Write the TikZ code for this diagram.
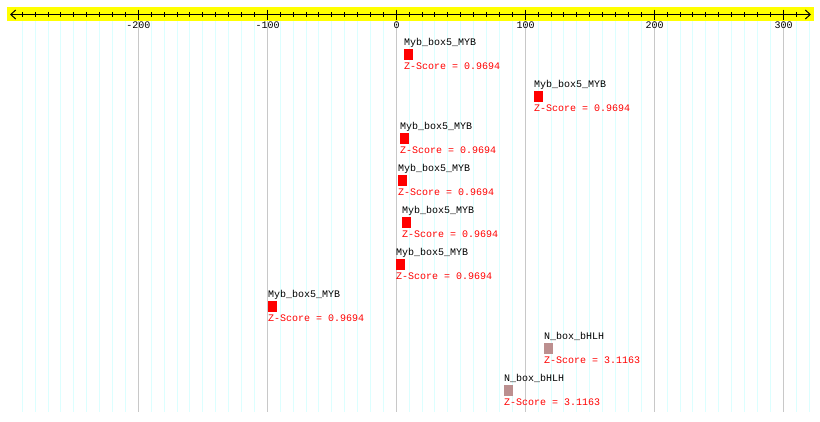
\documentclass[tikz,border=0pt]{standalone}
\usepackage{fontspec}
\setmonofont{Liberation Mono}
\usetikzlibrary{arrows.meta,positioning}

\definecolor{gridcyan}{RGB}{220,255,255}
\definecolor{gridgray}{RGB}{200,200,200}
\definecolor{bandyellow}{RGB}{255,255,0}
\definecolor{zred}{RGB}{255,0,0}
\definecolor{bhlhbox}{RGB}{188,143,143}

\tikzset{
  txt/.style={font=\ttfamily\fontsize{10}{12}\selectfont, inner sep=0pt},
  motif/.style={rectangle, inner sep=0pt, minimum width=9pt, minimum height=11pt, anchor=north west},
  motifname/.style={txt, anchor=base west},
  zscore/.style={txt, anchor=base west, text=zred},
}

\begin{document}
\begin{tikzpicture}[x=1pt,y=-1pt]
\useasboundingbox (0,0) rectangle (820,421);
\fill[white] (0,0) rectangle (820,421);
% grid (one line each 10 bp, 0 at px 396)
\foreach \v [evaluate=\v as \px using {floor(396.3+1.29*\v)+0.5}] in {-290,-280,...,320}
  \draw[gridcyan, line width=1pt] (\px,20.5) -- (\px,412);
\foreach \v [evaluate=\v as \px using {floor(396.3+1.29*\v)+0.5}] in {-200,-100,...,300}
  \draw[gridgray, line width=1pt] (\px,20.5) -- (\px,412);

% axis
\fill[bandyellow] (7,7) rectangle (814,21);
\coordinate (axL) at (10,14.5);
\coordinate (axR) at (811,14.5);
\draw[line width=1pt, {Straight Barb[length=5pt,width=9pt]}-{Straight Barb[length=5pt,width=9pt]}] (axL) -- (axR);
\foreach \v [evaluate=\v as \px using {floor(396.3+1.29*\v)+0.5}] in {-290,-280,...,310}
  \draw[line width=1pt] (\px,12) -- (\px,17);
\foreach \v [count=\i, evaluate=\v as \px using {floor(396.3+1.29*\v)+0.5}] in {-200,-100,...,300}{
  \draw[line width=1pt] (\px,9.5) -- (\px,19.5);
  \node[txt, anchor=base] (tick\i) at (\px,28) {\v};
}

% motif hits
\foreach \p/\name/\s/\c [count=\i] in {
    404/Myb\_box5\_MYB/0.9694/zred,
    534/Myb\_box5\_MYB/0.9694/zred,
    400/Myb\_box5\_MYB/0.9694/zred,
    398/Myb\_box5\_MYB/0.9694/zred,
    402/Myb\_box5\_MYB/0.9694/zred,
    396/Myb\_box5\_MYB/0.9694/zred,
    268/Myb\_box5\_MYB/0.9694/zred,
    544/N\_box\_bHLH/3.1163/bhlhbox,
    504/N\_box\_bHLH/3.1163/bhlhbox}{
  \node[motif, fill=\c] (m\i) at (\p,{49+42*(\i-1)}) {};
  \node[motifname] (n\i) at ([yshift=3.6pt]m\i.north west) {\name};
  \node[zscore] (z\i) at ([yshift=-9pt]m\i.south west) {Z-Score = \s};
}
\end{tikzpicture}
\end{document}
